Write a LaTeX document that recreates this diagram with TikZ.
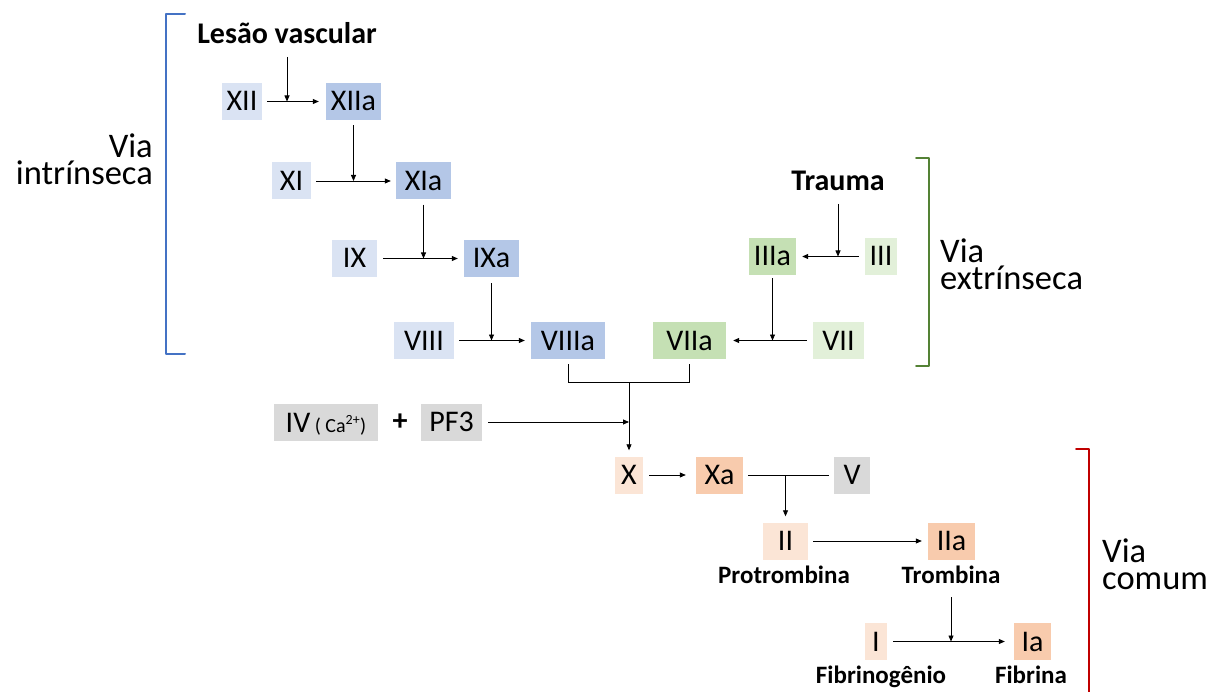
\documentclass[tikz,border=0pt]{standalone}
\usepackage{fontspec}
\setmainfont{Carlito}
\usetikzlibrary{arrows.meta}
\definecolor{bluL}{HTML}{DAE3F3}
\definecolor{bluD}{HTML}{B4C7E7}
\definecolor{grnL}{HTML}{E2F0D9}
\definecolor{grnD}{HTML}{C5E0B4}
\definecolor{orL}{HTML}{FBE5D6}
\definecolor{orD}{HTML}{F8CBAD}
\definecolor{gryF}{HTML}{D9D9D9}
\definecolor{brBlue}{HTML}{4472C4}
\definecolor{brGreen}{HTML}{548235}
\definecolor{brRed}{HTML}{C00000}
\tikzset{
  fac/.style={inner xsep=0pt, inner ysep=0pt, minimum height=37pt,
    text height=19pt, text depth=0pt, font=\fontsize{30}{30}\selectfont},
  lbl/.style={font=\fontsize{30}{30}\selectfont\bfseries, anchor=base, inner sep=0pt},
  sublbl/.style={font=\fontsize{25}{25}\selectfont\bfseries, anchor=base, inner sep=0pt},
  via/.style={font=\fontsize{34.5}{27}\selectfont, inner sep=0pt},
  arr/.style={-{Triangle[length=6pt,width=5pt]}, line width=0.8pt},
  ln/.style={line width=0.8pt},
  brk/.style={line width=2pt, line cap=round, line join=round}
}
\begin{document}
\begin{tikzpicture}[x=1pt,y=-1pt]
\useasboundingbox (0,0) rectangle (1214,692);
% intrinsic
\node[lbl] (lesao) at (287,44) {Lesão vascular};
\node[fac, fill=bluL, minimum width=40pt] (XII) at (242,101.5) {XII};
\node[fac, fill=bluD, minimum width=55pt] (XIIa) at (353.5,101.5) {XIIa};
\node[fac, fill=bluL, minimum width=39pt] (XI) at (291.5,181) {XI};
\node[fac, fill=bluD, minimum width=55pt] (XIa) at (423.5,181) {XIa};
\node[fac, fill=bluL, minimum width=45pt] (IX) at (354.5,258.5) {IX};
\node[fac, fill=bluD, minimum width=55pt] (IXa) at (491.5,258.5) {IXa};
\node[fac, fill=bluL, minimum width=60pt] (VIII) at (424,340.5) {VIII};
\node[fac, fill=bluD, minimum width=74pt] (VIIIa) at (568,340.5) {VIIIa};
% extrinsic
\node[lbl] (trauma) at (838,191) {Trauma};
\node[fac, fill=grnD, minimum width=47pt] (IIIa) at (772.5,256.5) {IIIa};
\node[fac, fill=grnL, minimum width=32pt] (III) at (881,256.5) {III};
\node[fac, fill=grnD, minimum width=73pt] (VIIa) at (689.5,340.5) {VIIa};
\node[fac, fill=grnL, minimum width=51pt] (VII) at (838.5,340.5) {VII};
% cofactors
\node[fac, fill=gryF, minimum width=104pt] (IV) at (326,422.5) {IV\fontsize{20}{20}\selectfont\ ( Ca\textsuperscript{2+})};
\node[font=\fontsize{30}{30}\selectfont\bfseries, inner sep=0pt] (plus) at (400,422.5) {+};
\node[fac, fill=gryF, minimum width=61pt] (PF3) at (451.5,422) {PF3};
% common
\node[fac, fill=orL, minimum width=28pt] (X) at (629,475) {X};
\node[fac, fill=orD, minimum width=47pt] (Xa) at (719.5,475) {Xa};
\node[fac, fill=gryF, minimum width=36pt] (V) at (852,475) {V};
\node[fac, fill=orL, minimum width=45pt] (II) at (785.5,541) {II};
\node[fac, fill=orD, minimum width=47pt] (IIa) at (951.5,541) {IIa};
\node[fac, fill=orL, minimum width=22pt] (I) at (876,641.5) {I};
\node[fac, fill=orD, minimum width=37pt] (Ia) at (1032.5,641.5) {Ia};
\node[sublbl] (protrombina) at (784,583) {Protrombina};
\node[sublbl] (trombina) at (951,583) {Trombina};
\node[sublbl] (fibrinogenio) at (881,683) {Fibrinogênio};
\node[sublbl] (fibrina) at (1031,683) {Fibrina};
% pathway labels
\node[via, align=right, anchor=east] (vintr) at (153,159) {Via\\intrínseca};
\node[via, align=left, anchor=west] (vextr) at (940,264) {Via\\extrínseca};
\node[via, align=left, anchor=west] (vcom) at (1102,564) {Via\\comum};
% brackets
\draw[brk, brBlue] (185,14) -- (166,14) -- (166,354) -- (185,354);
\draw[brk, brGreen] (916,158) -- (929,158) -- (929,366) -- (916,366);
\draw[brk, brRed] (1076,449) -- (1089,449) -- (1089,700);
% connectors: intrinsic
\draw[arr, shorten <=5pt, shorten >=7pt] (XII) -- (XIIa);
\draw[arr] ([yshift=-13pt]lesao.base) -- (lesao.base |- XII.center);
\draw[arr, shorten <=5pt, shorten >=5pt] (XI) -- (XIa);
\draw[arr, shorten <=5pt] (XIIa.south) -- (XIIa.south |- XI.center);
\draw[arr, shorten <=6pt, shorten >=6pt] (IX) -- (IXa);
\draw[arr, shorten <=5pt] (XIa.south) -- (XIa.south |- IX.center);
\draw[arr, shorten <=5pt, shorten >=6pt] (VIII) -- (VIIIa);
\draw[arr, shorten <=6pt] (IXa.south) -- (IXa.south |- VIII.center);
% connectors: extrinsic
\draw[arr, shorten <=6pt, shorten >=6pt] (III) -- (IIIa);
\draw[arr, shorten <=13pt] (trauma.base) -- (trauma.base |- III.center);
\draw[arr, shorten <=6pt, shorten >=7pt] (VII) -- (VIIa);
\draw[arr, shorten <=3pt] (IIIa.south) -- (IIIa.south |- VII.center);
% junction to X
\coordinate (jx) at ([yshift=-23pt]VIIIa.south -| X.center);
\draw[ln] ([yshift=-5pt]VIIIa.south) -- ([yshift=-23pt]VIIIa.south) -| ([yshift=-5pt]VIIa.south);
\draw[arr, shorten >=6pt] (jx) -- (X.north);
\draw[arr, shorten <=6pt] (PF3.east) -- (PF3.east -| X.center);
% common pathway
\draw[arr, shorten <=6pt, shorten >=10pt] (X.east) -- (Xa.west);
\draw[ln, shorten <=5pt, shorten >=5pt] (Xa.east) -- (V.west);
\draw[arr, shorten >=6pt] (II.north |- Xa.center) -- (II.north);
\draw[arr, shorten <=5pt, shorten >=6pt] (II.east) -- (IIa.west);
\draw[arr, shorten <=6pt, shorten >=9pt] (I.east) -- (Ia.west);
\draw[arr, shorten <=14pt] (trombina.base) -- (trombina.base |- I.center);
\end{tikzpicture}
\end{document}
